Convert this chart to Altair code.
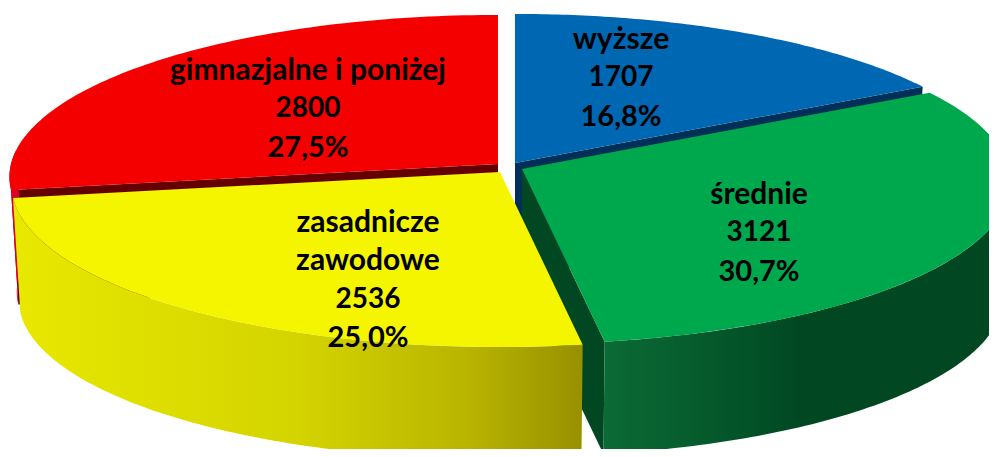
import math
import altair as alt
import pandas as pd

categories = ["wyższe", "średnie", "zasadnicze\nzawodowe", "gimnazjalne i poniżej"]
values = [1707, 3121, 2536, 2800]

# layout of the exploded 3-D pie, in picture pixels
apex_x = [515, 522, 500, 498]
apex_y = [163, 169, 172, 164]
label_x = [621, 759, 368, 308]
label_y = [40, 195, 223, 71]
R, H, P, DEPTH, SHRINK = 487, 161, 0.08, 115, 0.985
LINE = 38.4
FONT = "Lato"
FS_NAME, FS_NUM, FS_PCT = 30, 28, 29

total = sum(values)
edges = [0.0]
for v in values:
    edges.append(edges[-1] + v / total * 360)

X_SCALE = alt.Scale(domain=[8, 989])
Y_SCALE = alt.Scale(domain=[449, 8])


def rim(i, deg, low=False):
    t = math.radians(deg)
    k = 1 / (1 + P * math.cos(t))
    s = SHRINK if low else 1.0
    x = apex_x[i] + R * math.sin(t) * k * s
    y = apex_y[i] - H * math.cos(t) * k * s + (DEPTH if low else 0)
    return x, y


def arc(i, a, b, low=False, n=90):
    return [rim(i, a + (b - a) * j / n, low) for j in range(n + 1)]


def apex(i, low=False):
    return apex_x[i], apex_y[i] + (DEPTH if low else 0)


def poly(points, fill):
    df = pd.DataFrame(points, columns=["x", "y"])
    df["i"] = range(len(df))
    return (
        alt.Chart(df)
        .mark_line(fill=fill, stroke=None, strokeWidth=0, clip=True, interpolate="linear")
        .encode(
            x=alt.X("x:Q", scale=X_SCALE, axis=None),
            y=alt.Y("y:Q", scale=Y_SCALE, axis=None),
            order="i:Q",
        )
    )


def grad(stops):
    return alt.LinearGradient(
        gradient="linear", x1=0, x2=1, y1=0, y2=0,
        stops=[alt.GradientStop(offset=o, color=c) for o, c in stops],
    )


def top(i):
    return poly([apex(i)] + arc(i, edges[i], edges[i + 1]), TOPS[i])


def cut(i, deg, fill):
    return poly([apex(i), rim(i, deg), rim(i, deg, True), apex(i, True)], fill)


def wall(i, a, b, fill):
    return poly(arc(i, a, b) + arc(i, a, b, True)[::-1], fill)


TOPS = ["#0067b3", "#00a84d", "#f5f500", "#f50000"]

layers = [
    cut(0, edges[1], "#003057"),
    top(0),
    cut(3, edges[3], "#650000"),
    wall(3, edges[3], 275, "#d8002a"),
    top(3),
    cut(1, edges[2], "#004722"),
    wall(1, 100, edges[2], grad([(0, "#0b6b36"), (0.25, "#055a2c"), (0.5, "#004722"), (1, "#004722")])),
    top(1),
    wall(2, edges[2], edges[3], grad([(0, "#e8e800"), (0.5, "#d4d400"), (0.8, "#b8b400"), (1, "#989000")])),
    top(2),
]

rows = []
for i, cat in enumerate(categories):
    names = cat.split("\n")
    lines = [(s, FS_NAME) for s in names]
    lines.append((str(values[i]), FS_NUM))
    lines.append((f"{values[i] / total * 100:.1f}".replace(".", ",") + "%", FS_PCT))
    for j, (s, size) in enumerate(lines):
        rows.append({"x": label_x[i], "y": label_y[i] + j * LINE, "t": s, "s": size})

text = (
    alt.Chart(pd.DataFrame(rows))
    .mark_text(font=FONT, fontWeight="bold", color="#000000", baseline="middle", align="center")
    .encode(
        x=alt.X("x:Q", scale=X_SCALE, axis=None),
        y=alt.Y("y:Q", scale=Y_SCALE, axis=None),
        text="t:N",
        size=alt.Size("s:Q", scale=None, legend=None),
    )
)

chart = (
    alt.layer(*layers, text)
    .properties(width=981, height=441, padding=0, background="#ffffff")
    .configure_view(stroke=None)
)
chart.save("out.html", embed_options={"renderer": "svg", "actions": False})
